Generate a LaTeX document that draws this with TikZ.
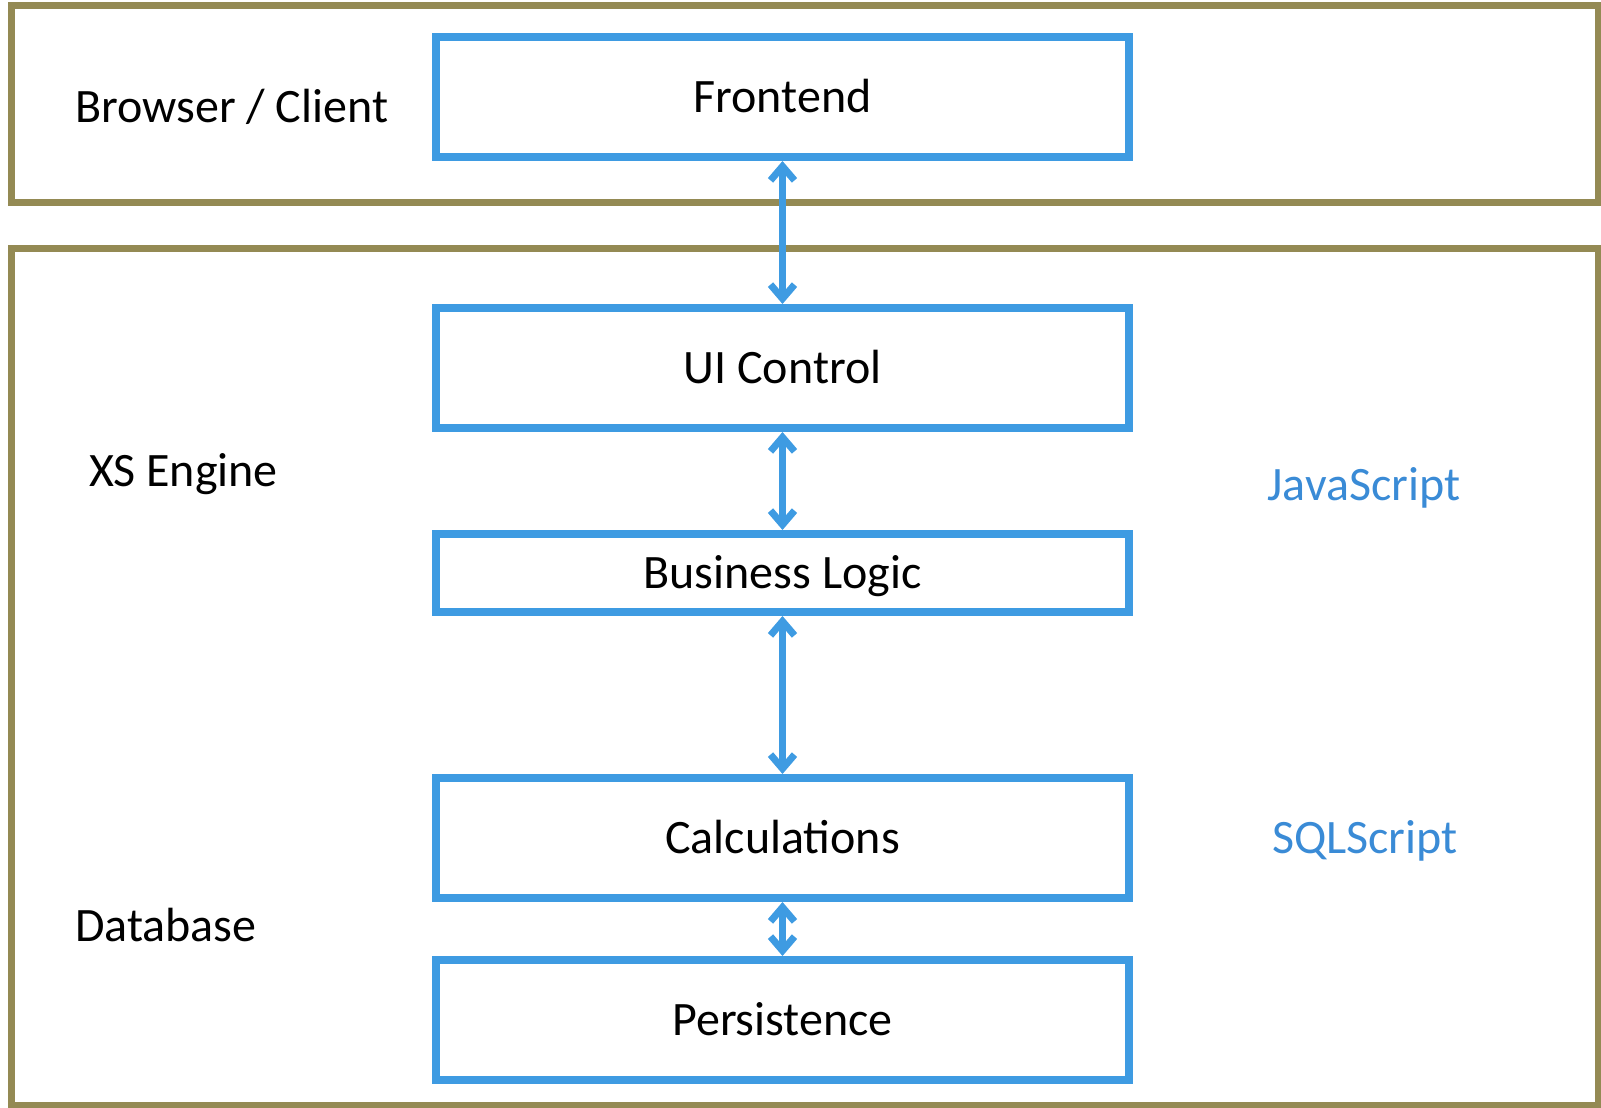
\documentclass[tikz,border=0pt]{standalone}
\usepackage{fontspec}
\setmainfont{Carlito}
\usetikzlibrary{positioning,arrows.meta}

\definecolor{tierolive}{HTML}{948A54}
\definecolor{layerblue}{HTML}{3E9BE2}
\definecolor{langblue}{HTML}{3A8BD6}

\tikzset{
  tier/.style={draw=tierolive,line width=7pt},
  layer/.style={rectangle,draw=layerblue,line width=8pt,fill=white,
    minimum width=693pt,inner sep=0pt,text depth=2pt,font=\fontsize{48}{58}\selectfont},
  tall/.style={layer,minimum height=120pt},
  flat/.style={layer,minimum height=78pt},
  tiername/.style={anchor=west,inner sep=0pt,font=\fontsize{48}{58}\selectfont},
  lang/.style={text=langblue,font=\fontsize{48}{58}\selectfont},
  link/.style={layerblue,line width=7pt,
    {Straight Barb[length=14pt,width=24pt]}-{Straight Barb[length=14pt,width=24pt]}}
}

\begin{document}
\begin{tikzpicture}[x=1pt,y=1pt]
            \useasboundingbox (0,0) rectangle (1601,-1108);
            % the two tiers
            \draw[tier] (11.5,-6) rectangle (1598,-202);
            \draw[tier] (11.5,-248.5) rectangle (1598,-1105);
            \node[tiername](client) at (75,-107){Browser / Client};
            \node[tiername](xs) at (89,-474){XS Engine};
            \node[tiername](db) at (75,-925){Database};
            % layer stack
            \node[tall](fe) at (782.5,-97){Frontend};
            \node[tall](ui)[below =143pt of fe]{UI Control};
            \node[flat](bl)[below =98pt of ui]{Business Logic};
            \node[tall](calc)[below =158pt of bl]{Calculations};
            \node[tall](pers)[below =54pt of calc]{Persistence};
            \node[lang](js) at (1364,-488){JavaScript};
            \node[lang](sql) at (1365,-841){SQLScript};
            \path[link](fe) edge (ui)
                    (ui) edge (bl)
                    (bl) edge (calc)
                    (calc) edge (pers);
        \end{tikzpicture}
\end{document}
